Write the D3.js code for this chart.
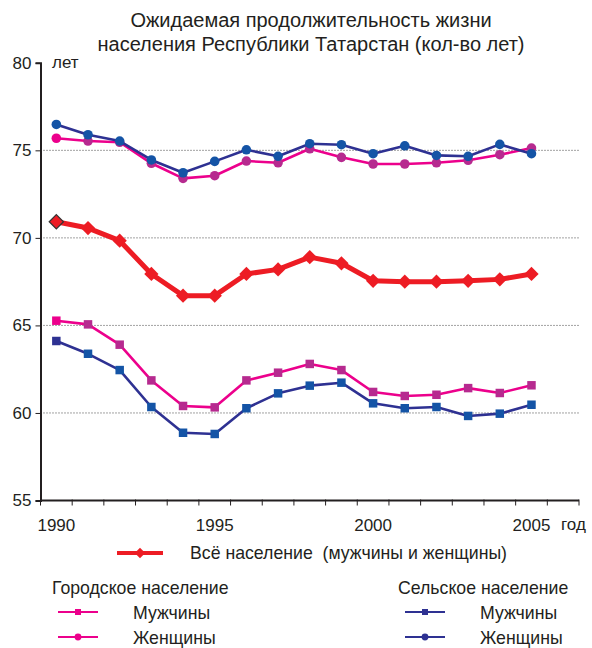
<!DOCTYPE html>
<html>
<head>
<meta charset="utf-8">
<script src="https://cdn.jsdelivr.net/npm/d3@7"></script>
<style>
  html, body { margin: 0; padding: 0; background: #fff; }
  svg text { font-family: "Liberation Sans", Arial, sans-serif; fill: #231f20; white-space: pre; }
</style>
</head>
<body>
<svg id="chart" width="592" height="648"></svg>
<script>
// Life expectancy, Republic of Tatarstan, 1990–2005 (years)
const years = d3.range(1990, 2006);
const totalPop   = [70.92, 70.56, 69.84, 67.94, 66.70, 66.70, 67.94, 68.20, 68.90, 68.55, 67.55, 67.50, 67.50, 67.55, 67.63, 67.94];
const urbanMen   = [65.27, 65.06, 63.90, 61.86, 60.40, 60.32, 61.86, 62.30, 62.80, 62.45, 61.20, 60.97, 61.04, 61.42, 61.14, 61.58];
const urbanWomen = [75.69, 75.53, 75.46, 74.26, 73.40, 73.55, 74.39, 74.29, 75.09, 74.60, 74.22, 74.22, 74.29, 74.43, 74.75, 75.13];
const ruralMen   = [64.11, 63.38, 62.45, 60.34, 58.87, 58.80, 60.27, 61.12, 61.56, 61.73, 60.55, 60.27, 60.34, 59.83, 59.96, 60.47];
const ruralWomen = [76.48, 75.89, 75.53, 74.45, 73.72, 74.37, 75.03, 74.66, 75.38, 75.32, 74.81, 75.26, 74.71, 74.66, 75.34, 74.81];

const yTicks = [55, 60, 65, 70, 75, 80];
const gridValues = [60, 65, 70, 75];
const xLabelYears = [1990, 1995, 2000, 2005];

const titleLines = ["Ожидаемая продолжительность жизни", "населения Республики Татарстан (кол-во лет)"];
const legendTotal = "Всё население  (мужчины и женщины)";
const groupUrban = "Городское население";
const groupRural = "Сельское население";
const labelMen = "Мужчины";
const labelWomen = "Женщины";

const RED = "#ed1c24", MAG_LINE = "#ec008c", MAG_MARK = "#b62a8f",
      BLUE_LINE = "#2e3192", BLUE_MARK = "#1454a6", INK = "#231f20";

const svg = d3.select("#chart");

// one extra empty slot at the end of the year axis
const x = d3.scaleBand().domain(d3.range(1990, 2007)).range([40.5, 579]);
const xc = yr => x(yr) + x.bandwidth() / 2;
const y = d3.scaleLinear().domain([55, 80]).range([500.5, 62.8]);

// title
svg.append("g").selectAll("text").data(titleLines).join("text")
  .attr("x", 311).attr("y", (d, i) => 27 + i * 24)
  .attr("text-anchor", "middle").attr("font-size", 20).text(d => d);

// dotted gridlines
svg.append("g").selectAll("line").data(gridValues).join("line")
  .attr("x1", x.range()[0]).attr("x2", x.range()[1])
  .attr("y1", d => y(d)).attr("y2", d => y(d))
  .attr("stroke", "#444").attr("stroke-width", 1).attr("stroke-dasharray", "1,2");

// y axis
const yAxis = svg.append("g").attr("transform", `translate(${x.range()[0]},0)`)
  .call(d3.axisLeft(y).tickValues(yTicks).tickSize(5).tickPadding(4).tickFormat(d3.format("d")));
yAxis.select(".domain").attr("stroke", INK).attr("stroke-width", 2);
yAxis.selectAll(".tick line").attr("stroke", INK).attr("stroke-width", 1);
yAxis.selectAll(".tick text").attr("font-size", 17).attr("font-family", "Liberation Sans, Arial, sans-serif").attr("fill", INK);
svg.append("text").attr("x", 52).attr("y", 68).attr("font-size", 17).text("лет");

// x axis: ticks on the category boundaries
const xAxisG = svg.append("g").attr("transform", `translate(0,${y(55)})`);
xAxisG.append("line").attr("x1", x.range()[0]).attr("x2", x.range()[1])
  .attr("stroke", INK).attr("stroke-width", 2);
const bounds = x.domain().map(d => x(d)).concat([x.range()[1]]);
xAxisG.selectAll("line.tk").data(bounds).join("line").attr("class", "tk")
  .attr("x1", d => d).attr("x2", d => d).attr("y1", -1).attr("y2", 5)
  .attr("stroke", INK).attr("stroke-width", 1);
xAxisG.selectAll("text").data(xLabelYears).join("text")
  .attr("x", d => xc(d)).attr("y", 30).attr("text-anchor", "middle")
  .attr("font-size", 17).text(d => d);
svg.append("text").attr("x", 561).attr("y", 530).attr("font-size", 17).text("год");

// series
const lineGen = d3.line().x((d, i) => xc(years[i])).y(d => y(d));
const series = [
  { values: urbanMen,   line: MAG_LINE,  mark: MAG_MARK,  first: MAG_LINE,  shape: "square" },
  { values: urbanWomen, line: MAG_LINE,  mark: MAG_MARK,  first: MAG_LINE,  shape: "circle" },
  { values: ruralMen,   line: BLUE_LINE, mark: BLUE_MARK, first: BLUE_LINE, shape: "square" },
  { values: ruralWomen, line: BLUE_LINE, mark: BLUE_MARK, first: BLUE_MARK, shape: "circle" },
];

series.forEach(s => {
  const g = svg.append("g");
  g.append("path").datum(s.values).attr("d", lineGen)
    .attr("fill", "none").attr("stroke", s.line).attr("stroke-width", 2.6).attr("stroke-linejoin", "round");
  const sym = s.shape === "square" ? d3.symbolSquare : d3.symbolCircle;
  g.selectAll("path.m").data(s.values).join("path").attr("class", "m")
    .attr("d", d3.symbol(sym, 72))
    .attr("transform", (d, i) => `translate(${xc(years[i])},${y(d)})`)
    .attr("fill", (d, i) => i === 0 ? s.first : s.mark);
});

// total population: thick red line with diamonds
const gt = svg.append("g");
gt.append("path").datum(totalPop).attr("d", lineGen)
  .attr("fill", "none").attr("stroke", RED).attr("stroke-width", 5).attr("stroke-linejoin", "round");
gt.selectAll("path.m").data(totalPop).join("path").attr("class", "m")
  .attr("d", d3.symbol(d3.symbolDiamond2, 130))
  .attr("transform", (d, i) => `translate(${xc(years[i])},${y(d)})`)
  .attr("fill", RED)
  .attr("stroke", (d, i) => i === 0 ? "#333" : "none").attr("stroke-width", 1.2);

// legend
const leg = svg.append("g");
function legendSample(x0, x1, yy, color, width, sym, size) {
  leg.append("line").attr("x1", x0).attr("x2", x1).attr("y1", yy).attr("y2", yy)
    .attr("stroke", color).attr("stroke-width", width);
  leg.append("path").attr("d", d3.symbol(sym, size))
    .attr("transform", `translate(${(x0 + x1) / 2},${yy})`).attr("fill", color);
}
legendSample(117, 163, 553, RED, 4, d3.symbolDiamond2, 70);
leg.append("text").attr("x", 190).attr("y", 559).attr("font-size", 17.7).text(legendTotal);

leg.append("text").attr("x", 52).attr("y", 594).attr("font-size", 17.7).text(groupUrban);
leg.append("text").attr("x", 398).attr("y", 594).attr("font-size", 17.7).text(groupRural);

legendSample(58, 98, 612, MAG_LINE, 2, d3.symbolSquare, 36);
legendSample(58, 98, 637, MAG_LINE, 2, d3.symbolCircle, 36);
legendSample(405, 445, 612, BLUE_LINE, 2, d3.symbolSquare, 36);
legendSample(405, 445, 637, BLUE_LINE, 2, d3.symbolCircle, 36);

leg.append("text").attr("x", 133).attr("y", 619).attr("font-size", 17.7).text(labelMen);
leg.append("text").attr("x", 133).attr("y", 644).attr("font-size", 17.7).text(labelWomen);
leg.append("text").attr("x", 480).attr("y", 619).attr("font-size", 17.7).text(labelMen);
leg.append("text").attr("x", 480).attr("y", 644).attr("font-size", 17.7).text(labelWomen);
</script>
</body>
</html>
